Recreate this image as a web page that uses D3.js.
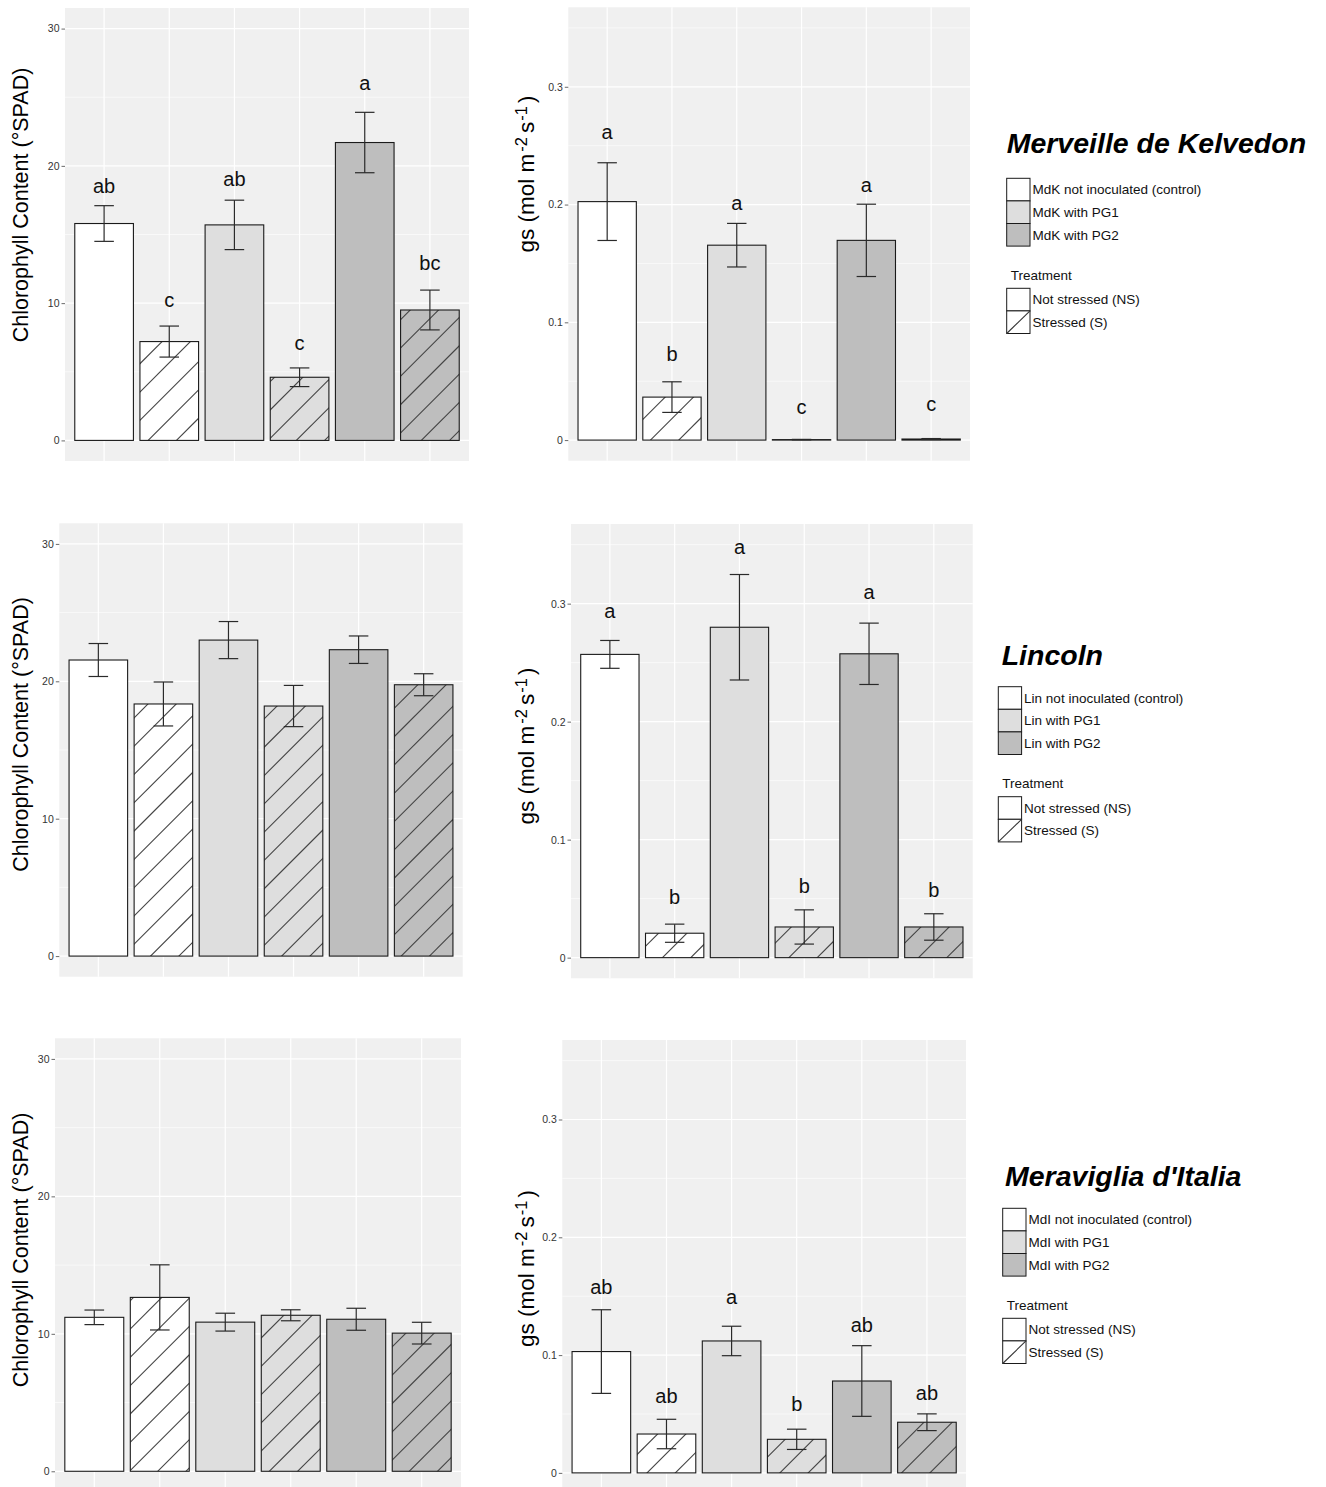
<!DOCTYPE html>
<html>
<head>
<meta charset="utf-8">
<script src="https://cdn.jsdelivr.net/npm/d3@7"></script>
<style>
  body { margin: 0; background: #ffffff; }
  svg { display: block; }
  text { font-family: "Liberation Sans", Arial, Helvetica, sans-serif; }
</style>
</head>
<body>
<svg id="fig" width="1326" height="1487"></svg>
<script>
// ---- Experimental groups: inoculum x water treatment ----
const groups    = ["control NS", "control S", "PG1 NS", "PG1 S", "PG2 NS", "PG2 S"];
const inoculum  = ["control", "control", "PG1", "PG1", "PG2", "PG2"];
const treatment = ["NS", "S", "NS", "S", "NS", "S"];

const cultivars     = ["Merveille de Kelvedon", "Lincoln", "Meraviglia d'Italia"];
const cultivarCodes = ["MdK", "Lin", "MdI"];

// ---- Chlorophyll content (°SPAD): mean, standard error, Tukey letters ----
const spadMdK        = [15.8, 7.2, 15.7, 4.6, 21.7, 9.5];
const spadMdKSe      = [1.3, 1.13, 1.8, 0.68, 2.2, 1.45];
const spadMdKLetters = ["ab", "c", "ab", "c", "a", "bc"];
const spadMdKLetterAt = [18.0, 9.7, 18.5, 6.6, 25.5, 12.4];

const spadLin        = [21.55, 18.35, 23.0, 18.2, 22.3, 19.75];
const spadLinSe      = [1.2, 1.6, 1.35, 1.5, 1.0, 0.8];

const spadMdI        = [11.2, 12.65, 10.85, 11.35, 11.06, 10.05];
const spadMdISe      = [0.53, 2.37, 0.65, 0.4, 0.8, 0.79];

// ---- Stomatal conductance gs (mol m-2 s-1) ----
const gsMdK          = [0.2025, 0.0365, 0.1655, 0.0004, 0.1696, 0.0009];
const gsMdKSe        = [0.033, 0.013, 0.0185, 0.0002, 0.0307, 0.0004];
const gsMdKLetters   = ["a", "b", "a", "c", "a", "c"];
const gsMdKLetterAt  = [0.2553, 0.0673, 0.195, 0.022, 0.2109, 0.0243];

const gsLin          = [0.257, 0.0207, 0.28, 0.026, 0.2575, 0.026];
const gsLinSe        = [0.0118, 0.0077, 0.0447, 0.0145, 0.026, 0.0112];
const gsLinLetters   = ["a", "b", "a", "b", "a", "b"];
const gsLinLetterAt  = [0.2875, 0.0458, 0.3424, 0.0552, 0.3036, 0.0515];

const gsMdI          = [0.103, 0.033, 0.112, 0.0285, 0.078, 0.043];
const gsMdISe        = [0.0355, 0.0125, 0.0125, 0.0086, 0.03, 0.0071];
const gsMdILetters   = ["ab", "ab", "a", "b", "ab", "ab"];
const gsMdILetterAt  = [0.152, 0.0591, 0.143, 0.0529, 0.12, 0.062];

// ---- Axes ----
const spadLimits = [0, 30];
const spadTicks  = [0, 10, 20, 30];
const gsLimits   = [0, 0.35];
const gsTicks    = [0, 0.1, 0.2, 0.3];

// ---- Legend texts ----
const inoculumLegend  = ["not inoculated (control)", "with PG1", "with PG2"];
const treatmentTitle  = "Treatment";
const treatmentLegend = ["Not stressed (NS)", "Stressed (S)"];

// ---------------------------------------------------------------
const fillOf = d3.scaleOrdinal(["control", "PG1", "PG2"], ["#FFFFFF", "#DEDEDE", "#BEBEBE"]);
const svg = d3.select("#fig");
const defs = svg.append("defs");
let clipCount = 0;

// Panel frames (page layout) for each cultivar row
const rows = [
  { spad: { x0: 65,   x1: 469,   y0: 8,      y1: 461,    titleY: 205 },
    gs:   { x0: 568.3, x1: 970,  y0: 7.3,    y1: 460.7,  titleY: 174 },
    legend: { keyX: 1006.7, titleX: 1006.7, titleY: 153.3, keyTop: 178.3 } },
  { spad: { x0: 59.3, x1: 462.7, y0: 523.3,  y1: 976.7,  titleY: 734.5 },
    gs:   { x0: 571,  x1: 972.7, y0: 524,    y1: 978.3,  titleY: 746 },
    legend: { keyX: 998.3, titleX: 1001.7, titleY: 665, keyTop: 686.7 } },
  { spad: { x0: 55,   x1: 461,   y0: 1038.3, y1: 1491.9, titleY: 1250 },
    gs:   { x0: 562.3, x1: 966,  y0: 1040,   y1: 1493.5, titleY: 1268.5 },
    legend: { keyX: 1002.7, titleX: 1005, titleY: 1186, keyTop: 1208.3 } }
];

const series = [
  { spad: [spadMdK, spadMdKSe, spadMdKLetters, spadMdKLetterAt], gs: [gsMdK, gsMdKSe, gsMdKLetters, gsMdKLetterAt] },
  { spad: [spadLin, spadLinSe, null, null],                      gs: [gsLin, gsLinSe, gsLinLetters, gsLinLetterAt] },
  { spad: [spadMdI, spadMdISe, null, null],                      gs: [gsMdI, gsMdISe, gsMdILetters, gsMdILetterAt] }
];

function expand(lim) {
  const pad = 0.05 * (lim[1] - lim[0]);
  return [lim[0] - pad, lim[1] + pad];
}

function drawPanel(frame, data, limits, ticks, tickFmt, titleFn) {
  const [means, ses, letters, letterAt] = data;
  const g = svg.append("g");

  const x = d3.scaleBand().domain(groups).range([frame.x0, frame.x1])
    .paddingInner(0.1).paddingOuter(0.15);
  const y = d3.scaleLinear().domain(expand(limits)).range([frame.y1, frame.y0]);

  // panel background
  g.append("rect")
    .attr("x", frame.x0).attr("y", frame.y0)
    .attr("width", frame.x1 - frame.x0).attr("height", frame.y1 - frame.y0)
    .attr("fill", "#F0F0F0");

  // minor + major horizontal grid
  const step = ticks[1] - ticks[0];
  const dom = y.domain();
  const minor = d3.range(ticks[0] - step / 2, dom[1], step).filter(v => v > dom[0] && v < dom[1]);
  g.selectAll(null).data(minor).join("line")
    .attr("x1", frame.x0).attr("x2", frame.x1)
    .attr("y1", d => y(d)).attr("y2", d => y(d))
    .attr("stroke", "#FFFFFF").attr("stroke-width", 0.6);
  g.selectAll(null).data(ticks).join("line")
    .attr("x1", frame.x0).attr("x2", frame.x1)
    .attr("y1", d => y(d)).attr("y2", d => y(d))
    .attr("stroke", "#FFFFFF").attr("stroke-width", 1.2);
  // vertical grid at each group
  g.selectAll(null).data(groups).join("line")
    .attr("x1", d => x(d) + x.bandwidth() / 2).attr("x2", d => x(d) + x.bandwidth() / 2)
    .attr("y1", frame.y0).attr("y2", frame.y1)
    .attr("stroke", "#FFFFFF").attr("stroke-width", 1.2);

  const bars = groups.map((grp, i) => ({
    grp, i, mean: means[i], se: ses[i],
    fill: fillOf(inoculum[i]), stressed: treatment[i] === "S"
  }));

  // bar fills
  g.selectAll(null).data(bars).join("rect")
    .attr("x", d => x(d.grp)).attr("width", x.bandwidth())
    .attr("y", d => y(d.mean)).attr("height", d => y(0) - y(d.mean))
    .attr("fill", d => d.fill);

  // diagonal hatching on stressed bars
  const spacing = 28.3;
  bars.filter(d => d.stressed && (y(0) - y(d.mean)) > 1.5).forEach(d => {
    const bx = x(d.grp), bw = x.bandwidth(), by = y(d.mean), bh = y(0) - y(d.mean);
    const id = "hatch" + (clipCount++);
    defs.append("clipPath").attr("id", id)
      .append("rect").attr("x", bx).attr("y", by).attr("width", bw).attr("height", bh);
    const cx = bx + bw / 2, cy = by + bh / 2;
    const L = Math.max(bw, bh) * 1.5;
    const n = Math.ceil((bw + bh) / spacing) + 1;
    const hg = g.append("g").attr("clip-path", `url(#${id})`);
    d3.range(-n, n + 1).forEach(k => {
      const ox = cx + k * spacing / 2, oy = cy + k * spacing / 2;
      hg.append("line")
        .attr("x1", ox - L).attr("y1", oy + L)
        .attr("x2", ox + L).attr("y2", oy - L)
        .attr("stroke", "#444444").attr("stroke-width", 1.1);
    });
  });

  // bar outlines
  g.selectAll(null).data(bars).join("rect")
    .attr("x", d => x(d.grp)).attr("width", x.bandwidth())
    .attr("y", d => y(d.mean)).attr("height", d => y(0) - y(d.mean))
    .attr("fill", "none").attr("stroke", "#1a1a1a").attr("stroke-width", 1.1);

  // error bars (mean ± SE)
  const cap = x.step() * 0.15;
  const eb = g.selectAll(null).data(bars).join("g")
    .attr("stroke", "#2a2a2a").attr("stroke-width", 1.2);
  eb.append("line")
    .attr("x1", d => x(d.grp) + x.bandwidth() / 2).attr("x2", d => x(d.grp) + x.bandwidth() / 2)
    .attr("y1", d => y(d.mean + d.se)).attr("y2", d => y(Math.max(d.mean - d.se, 0)));
  eb.append("line")
    .attr("x1", d => x(d.grp) + x.bandwidth() / 2 - cap).attr("x2", d => x(d.grp) + x.bandwidth() / 2 + cap)
    .attr("y1", d => y(d.mean + d.se)).attr("y2", d => y(d.mean + d.se));
  eb.append("line")
    .attr("x1", d => x(d.grp) + x.bandwidth() / 2 - cap).attr("x2", d => x(d.grp) + x.bandwidth() / 2 + cap)
    .attr("y1", d => y(Math.max(d.mean - d.se, 0))).attr("y2", d => y(Math.max(d.mean - d.se, 0)));

  // significance letters
  if (letters) {
    g.selectAll(null).data(bars).join("text")
      .attr("x", d => x(d.grp) + x.bandwidth() / 2)
      .attr("y", d => y(letterAt[d.i]))
      .attr("text-anchor", "middle")
      .attr("font-size", 20).attr("fill", "#111111")
      .text(d => letters[d.i]);
  }

  // y axis
  const axis = d3.axisLeft(y).tickValues(ticks).tickFormat(tickFmt).tickSize(3.5).tickPadding(2);
  const ag = g.append("g").attr("transform", `translate(${frame.x0},0)`).call(axis);
  ag.select(".domain").remove();
  ag.selectAll(".tick line").attr("stroke", "#444444").attr("stroke-width", 0.8);
  ag.selectAll(".tick text").attr("font-size", 10.5).attr("fill", "#333333")
    .attr("font-family", "\"Liberation Sans\", Arial, sans-serif");

  titleFn(g, frame);
}

function spadTitle(g, frame) {
  g.append("text")
    .attr("transform", `translate(28,${frame.titleY}) rotate(-90)`)
    .attr("text-anchor", "middle").attr("font-size", 21.5).attr("fill", "#000000")
    .text("Chlorophyll Content (°SPAD)");
}

function gsTitle(g, frame) {
  const t = g.append("text")
    .attr("transform", `translate(534,${frame.titleY}) rotate(-90)`)
    .attr("text-anchor", "middle").attr("font-size", 22.5).attr("fill", "#000000");
  t.append("tspan").text("gs (mol m");
  t.append("tspan").attr("dx", 2).attr("dy", -7.5).attr("font-size", 16.5).text("-2");
  t.append("tspan").attr("dx", 4).attr("dy", 7.5).text("s");
  t.append("tspan").attr("dx", 1).attr("dy", -7.5).attr("font-size", 16.5).text("-1");
  t.append("tspan").attr("dx", 3).attr("dy", 7.5).text(")");
}

function drawLegend(lg, cultivar, code) {
  const g = svg.append("g");
  const kw = 23.3, kh = 22.6;
  g.append("text")
    .attr("x", lg.titleX).attr("y", lg.titleY)
    .attr("font-size", 28.5).attr("font-weight", "bold").attr("font-style", "italic")
    .attr("fill", "#000000").text(cultivar);

  const inocs = ["control", "PG1", "PG2"];
  inocs.forEach((inoc, i) => {
    const top = lg.keyTop + i * kh;
    g.append("rect").attr("x", lg.keyX).attr("y", top).attr("width", kw).attr("height", kh)
      .attr("fill", fillOf(inoc)).attr("stroke", "#1a1a1a").attr("stroke-width", 1);
    g.append("text").attr("x", lg.keyX + kw + 2.5).attr("y", top + kh / 2 + 4.8)
      .attr("font-size", 13.5).attr("fill", "#111111").text(code + " " + inoculumLegend[i]);
  });

  g.append("text").attr("x", lg.keyX + 4).attr("y", lg.keyTop + 101.5)
    .attr("font-size", 13.5).attr("fill", "#111111").text(treatmentTitle);

  treatmentLegend.forEach((lab, i) => {
    const top = lg.keyTop + 110 + i * kh;
    g.append("rect").attr("x", lg.keyX).attr("y", top).attr("width", kw).attr("height", kh)
      .attr("fill", "#FFFFFF").attr("stroke", "#1a1a1a").attr("stroke-width", 1);
    if (i === 1) {
      g.append("line").attr("x1", lg.keyX).attr("y1", top + kh)
        .attr("x2", lg.keyX + kw).attr("y2", top)
        .attr("stroke", "#333333").attr("stroke-width", 1.1);
    }
    g.append("text").attr("x", lg.keyX + kw + 2.5).attr("y", top + kh / 2 + 4.8)
      .attr("font-size", 13.5).attr("fill", "#111111").text(lab);
  });
}

const spadFmt = d3.format("d");
const gsFmt = d => d === 0 ? "0" : d3.format(".1f")(d);

rows.forEach((row, r) => {
  drawPanel(row.spad, series[r].spad, spadLimits, spadTicks, spadFmt, spadTitle);
  drawPanel(row.gs, series[r].gs, gsLimits, gsTicks, gsFmt, gsTitle);
  drawLegend(row.legend, cultivars[r], cultivarCodes[r]);
});
</script>
</body>
</html>
